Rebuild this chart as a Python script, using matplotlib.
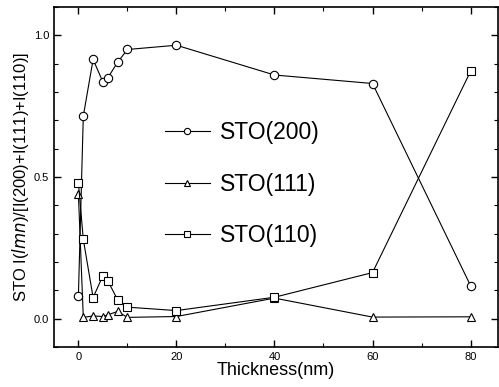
import matplotlib
matplotlib.use("Agg")
from matplotlib import pyplot as plt
from matplotlib import ticker as plticker

# thickness (nm) and relative intensities
thickness = [0, 1, 3, 5, 6, 8, 10, 20, 40, 60, 80]
sto200 = [0.082, 0.715, 0.915, 0.835, 0.85, 0.905, 0.95, 0.965, 0.86, 0.83, 0.117]
sto111 = [0.44, 0.005, 0.01, 0.008, 0.014, 0.026, 0.005, 0.008, 0.073, 0.006, 0.007]
sto110 = [0.48, 0.28, 0.075, 0.152, 0.134, 0.067, 0.041, 0.029, 0.076, 0.163, 0.873]

labels = ["STO(200)", "STO(111)", "STO(110)"]
markers = ["o", "^", "s"]

plt.rcParams['font.family'] = ['Liberation Sans', 'DejaVu Sans']

fig = plt.figure(figsize=(4.99, 3.87), dpi=100)
ax = fig.add_axes([0.108, 0.103, 0.89, 0.879])

for ys, m, lab in zip([sto200, sto111, sto110], markers, labels):
    ax.plot(thickness, ys, color="black", linewidth=0.8, marker=m,
            markersize=6 if m != "s" else 5.5, markerfacecolor="white",
            markeredgecolor="black", markeredgewidth=0.8, label=lab)

ax.set_xlim(-5, 85.6)
ax.set_ylim(-0.1, 1.1)
ax.xaxis.set_major_locator(plticker.MultipleLocator(20))
ax.xaxis.set_minor_locator(plticker.MultipleLocator(10))
ax.yaxis.set_major_locator(plticker.MultipleLocator(0.5))
ax.yaxis.set_minor_locator(plticker.MultipleLocator(0.1))
ax.yaxis.set_major_formatter(plticker.FormatStrFormatter('%.1f'))
ax.tick_params(which="both", direction="in", top=True, right=True, labelsize=8)
ax.tick_params(which="major", length=5, width=1)
ax.tick_params(which="minor", length=3, width=0.8)
for s in ax.spines.values():
    s.set_linewidth(1.2)

ax.set_xlabel("Thickness(nm)", fontsize=13, labelpad=0)
ax.set_ylabel(r"STO I($\mathit{lmn}$)/[I(200)+I(111)+I(110)]", fontsize=12, labelpad=2)

leg = ax.legend(loc="upper left", bbox_to_anchor=(0.204, 0.725), frameon=False,
                fontsize=16.5, handlelength=1.95, labelspacing=1.25,
                handletextpad=0.45, markerscale=0.75)

fig.savefig("out.png", dpi=100)
